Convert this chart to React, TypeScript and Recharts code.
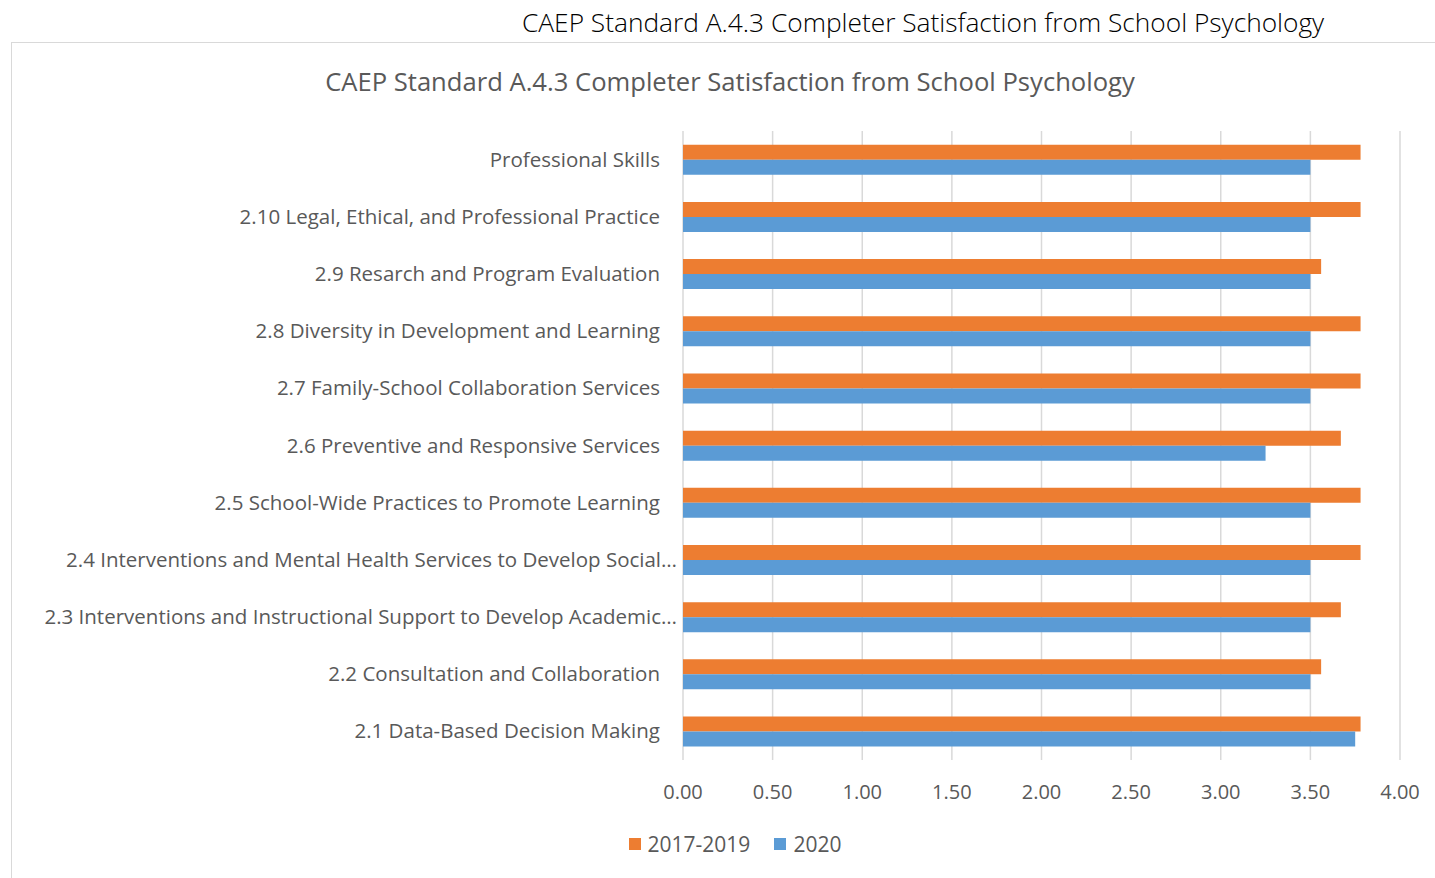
import React from 'react';
import { BarChart, Bar, XAxis, YAxis, CartesianGrid, Legend } from 'recharts';

// Categories top to bottom, as shown in the chart
const categories = [
  'Professional Skills',
  '2.10 Legal, Ethical, and Professional Practice',
  '2.9 Resarch and Program Evaluation',
  '2.8 Diversity in Development and Learning',
  '2.7 Family-School Collaboration Services',
  '2.6 Preventive and Responsive Services',
  '2.5 School-Wide Practices to Promote Learning',
  '2.4 Interventions and Mental Health Services to Develop Social…',
  '2.3 Interventions and Instructional Support to Develop Academic…',
  '2.2 Consultation and Collaboration',
  '2.1 Data-Based Decision Making',
];

const scores2017to2019 = [3.78, 3.78, 3.56, 3.78, 3.78, 3.67, 3.78, 3.78, 3.67, 3.56, 3.78];
const scores2020 = [3.5, 3.5, 3.5, 3.5, 3.5, 3.25, 3.5, 3.5, 3.5, 3.5, 3.75];

const xTicks = [0, 0.5, 1, 1.5, 2, 2.5, 3, 3.5, 4];

const data = categories.map((name, i) => ({
  name,
  early: scores2017to2019[i],
  recent: scores2020[i],
}));

const FONT = '"Open Sans", "Noto Sans", sans-serif';
const GREY = '#595959';

// Excel pushes the truncated labels closer to the axis
const CategoryTick = (props: any) => {
  const { x, y, payload } = props;
  const text: string = payload.value;
  const dx = text.endsWith('…') ? 2 : -15;
  return (
    <text
      x={x + dx}
      y={y}
      dy={7}
      textAnchor="end"
      fill={GREY}
      fontSize={20.5}
      fontFamily={FONT}
    >
      {text}
    </text>
  );
};

const LegendContent = (props: any) => {
  const { payload } = props;
  return (
    <div style={{ display: 'flex', justifyContent: 'center', paddingLeft: 70 }}>
      {payload.map((item: any, i: number) => (
        <div
          key={item.value}
          style={{
            display: 'flex',
            alignItems: 'center',
            marginRight: i === 0 ? 24 : 0,
            fontSize: 21,
            fontFamily: FONT,
            color: GREY,
          }}
        >
          <span
            style={{
              display: 'inline-block',
              width: 12,
              height: 12,
              background: item.color,
              marginRight: 7,
            }}
          />
          {item.value}
        </div>
      ))}
    </div>
  );
};

const App = () => {
  return (
    <div style={{ fontFamily: FONT }}>
      {/* page heading above the chart frame */}
      <div
        style={{
          position: 'absolute',
          left: 522,
          top: 4,
          fontSize: 26.3,
          fontWeight: 300,
          color: '#000',
          whiteSpace: 'nowrap',
        }}
      >
        CAEP Standard A.4.3 Completer Satisfaction from School Psychology
      </div>

      {/* chart frame */}
      <div
        style={{
          position: 'absolute',
          left: 11,
          top: 42,
          width: 1440,
          height: 900,
          border: '1px solid #d9d9d9',
          background: '#fff',
        }}
      />

      <div
        style={{
          position: 'absolute',
          left: 0,
          top: 64,
          width: 1460,
          textAlign: 'center',
          fontSize: 25.6,
          color: GREY,
          whiteSpace: 'nowrap',
        }}
      >
        CAEP Standard A.4.3 Completer Satisfaction from School Psychology
      </div>

      <div style={{ position: 'absolute', left: 0, top: 0 }}>
        <BarChart
          width={1435}
          height={878}
          data={data}
          layout="vertical"
          margin={{ top: 131, right: 35, left: 0, bottom: 20 }}
          barCategoryGap="24%"
          barGap={0}
        >
          <CartesianGrid horizontal={false} stroke="#d9d9d9" strokeWidth={1.5} />
          <XAxis
            type="number"
            domain={[0, 4]}
            ticks={xTicks}
            tickFormatter={(v: number) => v.toFixed(2)}
            axisLine={false}
            tickLine={false}
            tick={{ fill: GREY, fontSize: 20, fontFamily: FONT }}
            tickMargin={19}
            height={70}
            interval={0}
          />
          <YAxis
            type="category"
            dataKey="name"
            width={683}
            axisLine={false}
            tickLine={false}
            tick={<CategoryTick />}
            interval={0}
          />
          <Legend verticalAlign="bottom" align="center" content={<LegendContent />} />
          <Bar dataKey="early" name="2017-2019" fill="#ed7d31" isAnimationActive={false} />
          <Bar dataKey="recent" name="2020" fill="#5b9bd5" isAnimationActive={false} />
        </BarChart>
      </div>
    </div>
  );
};

export default App;
